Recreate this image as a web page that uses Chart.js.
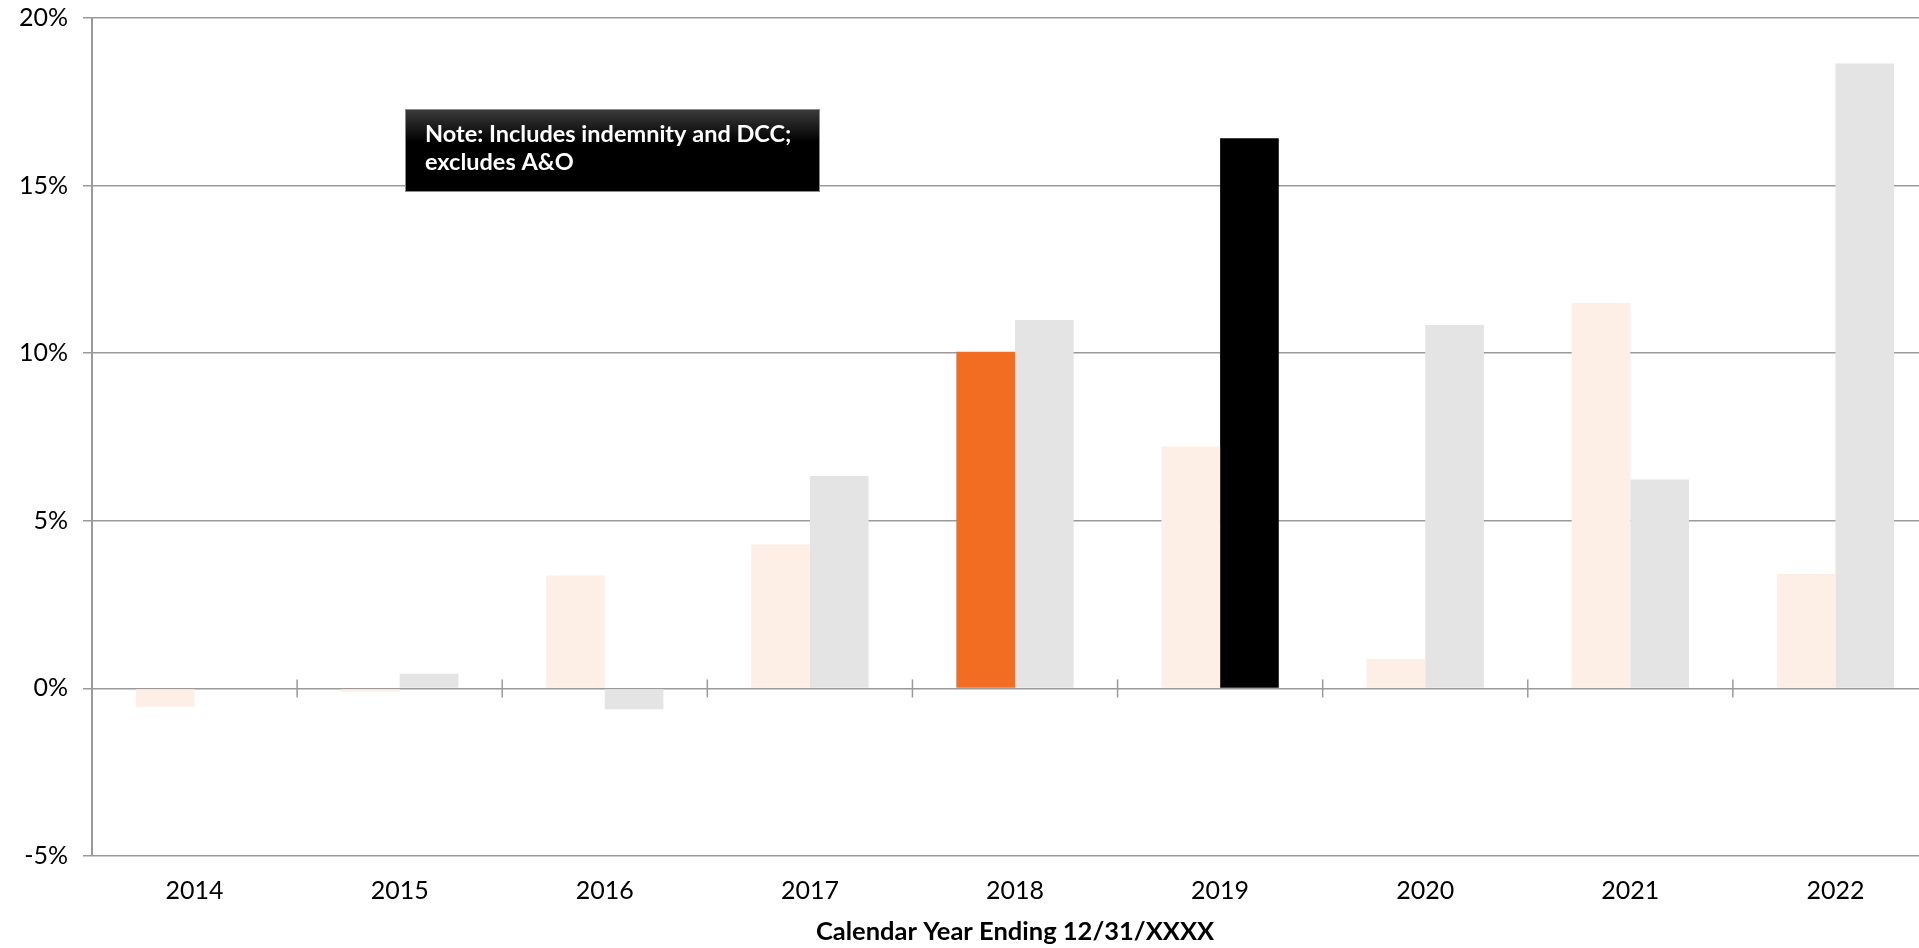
<!DOCTYPE html>
<html>
<head>
<meta charset="utf-8">
<script src="https://cdn.jsdelivr.net/npm/chart.js@4.4.1/dist/chart.umd.min.js"></script>
<style>
    html, body { margin: 0; padding: 0; background: #fff; overflow: hidden; }
    #wrap { width: 1919px; height: 948px; overflow: hidden; }
    canvas { display: block; }
</style>
</head>
<body>
<div id="wrap"><canvas id="chart" width="1940" height="948"></canvas></div>
<script>
const years = ['2014', '2015', '2016', '2017', '2018', '2019', '2020', '2021', '2022'];
const seriesA = [-0.55, -0.1, 3.37, 4.29, 10.04, 7.22, 0.88, 11.5, 3.41];
const seriesB = [null, 0.44, -0.62, 6.34, 10.99, 16.41, 10.84, 6.23, 18.64];
const highlightA = '2018';
const highlightB = '2019';
const yTicks = [-5, 0, 5, 10, 15, 20];
const noteLines = ['Note: Includes indemnity and DCC;', 'excludes A&O'];
const xTitle = 'Calendar Year Ending 12/31/XXXX';

const FONT = 'Lato, Carlito, Calibri, sans-serif';
const GRID = '#9a9a9a';

// cross ticks on the zero line plus the note box
const extrasPlugin = {
    id: 'extras',
    afterDatasetsDraw(chart) {
        const ctx = chart.ctx;
        const x = chart.scales.x;
        const y = chart.scales.y;
        const zero = y.getPixelForValue(0);
        const half = (x.getPixelForValue(1) - x.getPixelForValue(0)) / 2;

        ctx.save();
        ctx.strokeStyle = GRID;
        ctx.lineWidth = 1.5;
        for (let i = 0; i < years.length; i++) {
            const bx = x.getPixelForValue(i) + half;
            ctx.beginPath();
            ctx.moveTo(bx, zero - 9);
            ctx.lineTo(bx, zero + 9);
            ctx.stroke();
        }

        const area = chart.chartArea;
        const bx = area.left + 313, by = area.top + 91, bw = 415, bh = 83;
        const grad = ctx.createLinearGradient(0, by, 0, by + bh);
        grad.addColorStop(0, '#3c3c3c');
        grad.addColorStop(0.4, '#000');
        grad.addColorStop(1, '#000');
        ctx.fillStyle = grad;
        ctx.fillRect(bx, by, bw, bh);
        ctx.strokeStyle = '#8a8a8a';
        ctx.lineWidth = 1;
        ctx.strokeRect(bx + 0.5, by + 0.5, bw - 1, bh - 1);

        ctx.fillStyle = '#fff';
        ctx.font = 'bold 23.5px ' + FONT;
        ctx.textBaseline = 'alphabetic';
        ctx.textAlign = 'left';
        noteLines.forEach((line, i) => {
            ctx.fillText(line, bx + 20, by + 33 + i * 28);
        });
        ctx.restore();
    }
};

new Chart(document.getElementById('chart'), {
    type: 'bar',
    data: {
        labels: years,
        datasets: [{
            data: seriesA,
            backgroundColor: years.map(y => y === highlightA ? '#f26d21' : '#fdeee6'),
            borderWidth: 0,
            categoryPercentage: 0.572,
            barPercentage: 1
        }, {
            data: seriesB,
            backgroundColor: years.map(y => y === highlightB ? '#000000' : '#e4e4e4'),
            borderWidth: 0,
            categoryPercentage: 0.572,
            barPercentage: 1
        }]
    },
    options: {
        responsive: false,
        animation: false,
        layout: { padding: { top: 18, right: 2, left: 0, bottom: 0 } },
        plugins: {
            legend: { display: false },
            tooltip: { enabled: false }
        },
        scales: {
            x: {
                grid: { display: false },
                border: { display: false },
                ticks: { color: '#000', font: { family: FONT, size: 25 }, padding: 12, maxRotation: 0 },
                title: {
                    display: true,
                    text: xTitle,
                    color: '#000',
                    font: { family: FONT, size: 25.5, weight: 'bold' },
                    padding: { top: 0, bottom: 1 }
                },
                afterFit(scale) { scale.height = 92; }
            },
            y: {
                min: -5,
                max: 20,
                afterBuildTicks(scale) { scale.ticks = yTicks.map(v => ({ value: v })); },
                grid: { color: GRID, lineWidth: 1.5, tickLength: 9 },
                border: { display: true, color: GRID, width: 2 },
                ticks: {
                    color: '#000',
                    font: { family: FONT, size: 25 },
                    padding: 15,
                    callback: v => v + '%'
                },
                afterFit(scale) {
                    scale.width = 92;
                    scale.paddingTop = 0;
                    scale.paddingBottom = 0;
                }
            }
        }
    },
    plugins: [extrasPlugin]
});
</script>
</body>
</html>
